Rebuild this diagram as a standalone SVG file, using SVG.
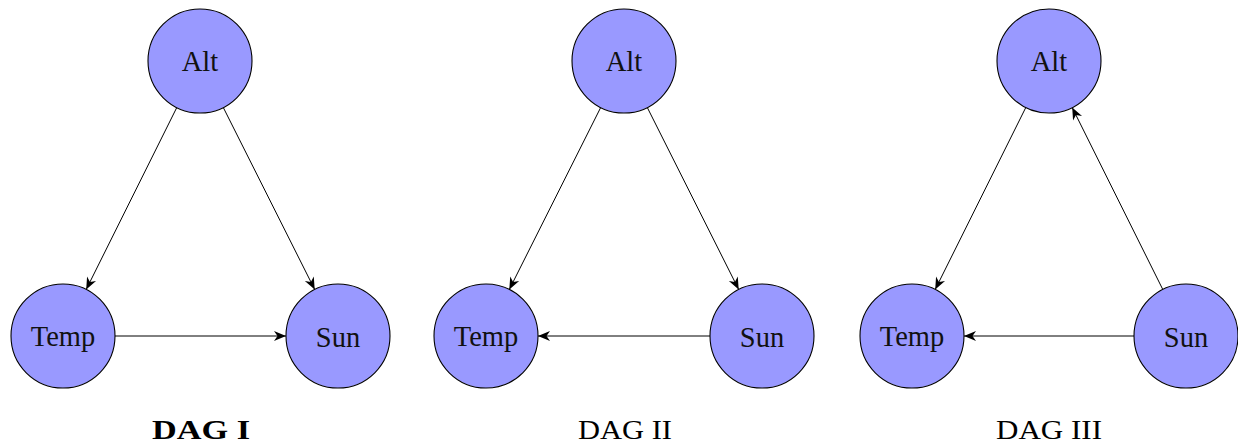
<svg xmlns="http://www.w3.org/2000/svg" width="1238" height="443" viewBox="0 0 1238 443">
<style>
.node circle{fill:#9999ff;stroke:#000;stroke-width:1.1}
.node text{font-family:"Liberation Serif","DejaVu Serif",serif;font-size:28.5px;text-anchor:middle;fill:#111}
.edge{stroke:#000;stroke-width:1;fill:none;marker-end:url(#arr)}
.cap{font-family:"Liberation Serif","DejaVu Serif",serif;font-size:28px;text-anchor:middle;fill:#000}
</style>
<defs>
<marker id="arr" viewBox="-13 -7 14 14" refX="0" refY="0" markerWidth="14" markerHeight="14" markerUnits="userSpaceOnUse" orient="auto">
<path d="M0,0 L-12,-5 L-8.5,0 L-12,5 Z" fill="#000"/>
</marker>
</defs>
<g id="connectors">
<line class="edge" x1="176.8" y1="107.5" x2="86.2" y2="289.5"/>
<line class="edge" x1="223.3" y1="107.5" x2="314.7" y2="289.5"/>
<line class="edge" x1="115" y1="336" x2="286" y2="336"/>
<line class="edge" x1="600.7" y1="107.5" x2="509.3" y2="289.5"/>
<line class="edge" x1="647.3" y1="107.5" x2="738.7" y2="289.5"/>
<line class="edge" x1="710" y1="336" x2="538" y2="336"/>
<line class="edge" x1="1025.8" y1="107.5" x2="935.2" y2="289.5"/>
<line class="edge" x1="1162.8" y1="289.5" x2="1072.2" y2="107.5"/>
<line class="edge" x1="1134" y1="336" x2="964" y2="336"/>
</g>
<g id="alt1" class="node"><circle cx="200" cy="61" r="52"/><text x="200" y="71">Alt</text></g>
<g id="temp1" class="node"><circle cx="63" cy="336" r="52"/><text x="63" y="346">Temp</text></g>
<g id="sun1" class="node"><circle cx="338" cy="336" r="52"/><text x="338" y="347">Sun</text></g>
<g id="alt2" class="node"><circle cx="624" cy="61" r="52"/><text x="624" y="71">Alt</text></g>
<g id="temp2" class="node"><circle cx="486" cy="336" r="52"/><text x="486" y="346">Temp</text></g>
<g id="sun2" class="node"><circle cx="762" cy="336" r="52"/><text x="762" y="347">Sun</text></g>
<g id="alt3" class="node"><circle cx="1049" cy="61" r="52"/><text x="1049" y="71">Alt</text></g>
<g id="temp3" class="node"><circle cx="912" cy="336" r="52"/><text x="912" y="346">Temp</text></g>
<g id="sun3" class="node"><circle cx="1186" cy="336" r="52"/><text x="1186" y="347">Sun</text></g>
<text class="cap" x="201" y="439" font-weight="bold" textLength="98" lengthAdjust="spacingAndGlyphs">DAG I</text>
<text class="cap" x="625" y="439" textLength="94" lengthAdjust="spacingAndGlyphs">DAG II</text>
<text class="cap" x="1049" y="439" textLength="106" lengthAdjust="spacingAndGlyphs">DAG III</text>
</svg>
